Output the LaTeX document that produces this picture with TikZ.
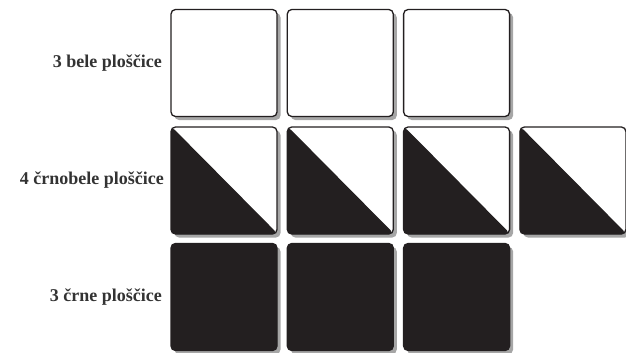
\documentclass[tikz,border=0pt]{standalone}
\usepackage{fontspec}
\setmainfont{Liberation Serif}
\usetikzlibrary{shadows}
\definecolor{crna}{HTML}{231F20}
\definecolor{napis}{HTML}{333333}
\tikzset{
	ploscica/.style={draw=crna, line width=1.3pt, rounded corners=4.5pt,
		minimum width=106pt, minimum height=107pt, inner sep=0pt, fill=white,
		drop shadow={shadow xshift=3.5pt, shadow yshift=-3.5pt, fill=black!35, opacity=1}},
	bela/.style={ploscica},
	crnobela/.style={ploscica, path picture={
		\fill[crna] (path picture bounding box.north west) -- (path picture bounding box.south east)
			-- (path picture bounding box.south west) -- cycle;}},
	crna/.style={ploscica, fill=crna},
	vrsta/.style={anchor=east, text=napis, font=\bfseries\fontsize{18}{20}\selectfont, inner sep=0pt}
}
\newcommand{\vrsta}[4]{
	% #1 ime, #2 y, #3 stevilo ploscic, #4 slog
	\foreach \i in {1,...,#3} {
		\node[#4] (#1\i) at ({224+116.3*(\i-1)},#2) {};
	}
}
\begin{document}
\begin{tikzpicture}[x=1pt, y=-1pt]
	\useasboundingbox (0,0) rectangle (626,353);
	\vrsta{b}{63}{3}{bela}
	\vrsta{cb}{180.5}{4}{crnobela}
	\vrsta{c}{297}{3}{crna}
	
	\node[vrsta] (lb) at (162,63) {3 bele ploščice};
	\node[vrsta] (lcb) at (164,180.5) {4 črnobele ploščice};
	\node[vrsta] (lc) at (162,297) {3 črne ploščice};
\end{tikzpicture}
\end{document}
